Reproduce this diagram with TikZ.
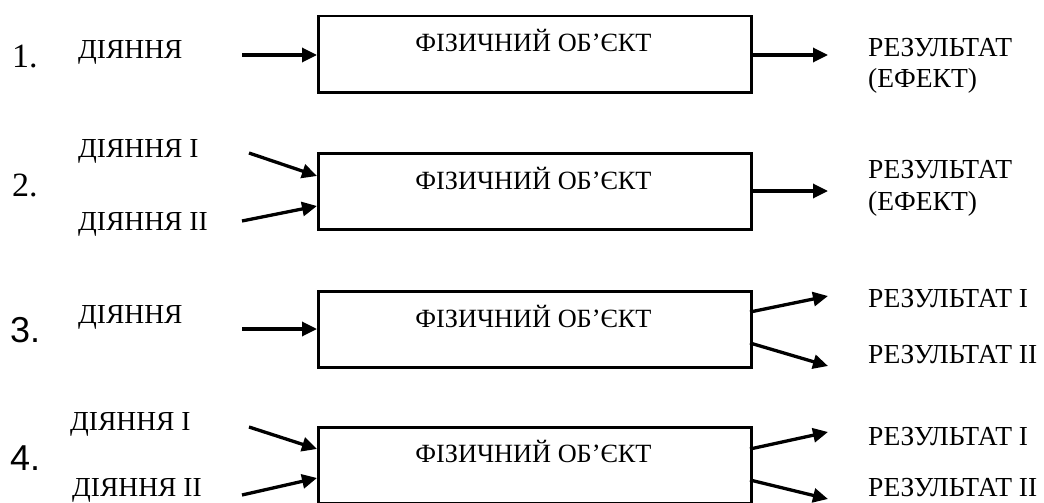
\documentclass[tikz,border=0pt]{standalone}
\usepackage{fontspec}
\setmainfont{Liberation Serif}
\newfontfamily\arialf{Liberation Sans}
\usetikzlibrary{arrows.meta}
\tikzset{
  x=1pt, y=-1pt,
  box/.style={draw, line width=2.5pt, minimum width=433pt, minimum height=76pt, inner sep=0pt, anchor=north west},
  lbl/.style={anchor=base west, inner sep=0pt, font=\fontsize{27.5}{32}\selectfont},
  boxtxt/.style={anchor=base, inner sep=0pt, font=\fontsize{26.3}{30}\selectfont},
  num/.style={anchor=base west, inner sep=0pt, font=\fontsize{34}{40}\selectfont},
  numsans/.style={anchor=base west, inner sep=0pt, font=\arialf\fontsize{36}{40}\selectfont},
  arr/.style={line width=3.3pt, -{Triangle[length=15pt,width=14pt]}},
}
\begin{document}
\begin{tikzpicture}
\useasboundingbox (0,0) rectangle (1044,503);
% ---------- row 1
\node[num] (n1) at (12,67) {1.};
\node[lbl] (a1) at (78,59) {ДІЯННЯ};
\node[box] (b1) at (317,15) {};
\node[boxtxt] (t1) at (533.5,52) {ФІЗИЧНИЙ ОБ’ЄКТ};
\node[lbl] (r1) at (868,57) {РЕЗУЛЬТАТ};
\node[lbl] (e1) at (868,88) {(ЕФЕКТ)};
\coordinate (s1) at (242,55);
\coordinate (i1) at (317,55);
\coordinate (o1) at (750,55);
\coordinate (f1) at (828,55);
\draw[arr] (s1) -- (i1);
\draw[arr] (o1) -- (f1);
% ---------- row 2
\node[num] (n2) at (12,196) {2.};
\node[lbl] (a2) at (78,157) {ДІЯННЯ I};
\node[lbl] (a2b) at (78,230) {ДІЯННЯ II};
\node[box] (b2) at (317,152) {};
\node[boxtxt] (t2) at (533.5,189) {ФІЗИЧНИЙ ОБ’ЄКТ};
\node[lbl] (r2) at (868,178) {РЕЗУЛЬТАТ};
\node[lbl] (e2) at (868,210) {(ЕФЕКТ)};
\coordinate (s2a) at (249,153);
\coordinate (i2a) at (317,176);
\coordinate (s2b) at (242,221);
\coordinate (i2b) at (317,206);
\coordinate (o2) at (750,191);
\coordinate (f2) at (828,191);
\draw[arr] (s2a) -- (i2a);
\draw[arr] (s2b) -- (i2b);
\draw[arr] (o2) -- (f2);
% ---------- row 3
\node[numsans] (n3) at (10,342) {3.};
\node[lbl] (a3) at (78,323) {ДІЯННЯ};
\node[box] (b3) at (317,290) {};
\node[boxtxt] (t3) at (533.5,327) {ФІЗИЧНИЙ ОБ’ЄКТ};
\node[lbl] (r3a) at (868,307) {РЕЗУЛЬТАТ I};
\node[lbl] (r3b) at (868,363) {РЕЗУЛЬТАТ II};
\coordinate (s3) at (242,329);
\coordinate (i3) at (317,329);
\coordinate (o3a) at (750,312);
\coordinate (f3a) at (828,296);
\coordinate (o3b) at (750,343);
\coordinate (f3b) at (828,366);
\draw[arr] (s3) -- (i3);
\draw[arr] (o3a) -- (f3a);
\draw[arr] (o3b) -- (f3b);
% ---------- row 4
\node[numsans] (n4) at (10,470) {4.};
\node[lbl] (a4) at (70,430) {ДІЯННЯ I};
\node[lbl] (a4b) at (72,496) {ДІЯННЯ II};
\node[box] (b4) at (317,426) {};
\node[boxtxt] (t4) at (533.5,462) {ФІЗИЧНИЙ ОБ’ЄКТ};
\node[lbl] (r4a) at (868,445) {РЕЗУЛЬТАТ I};
\node[lbl] (r4b) at (868,496) {РЕЗУЛЬТАТ II};
\coordinate (s4a) at (249,427);
\coordinate (i4a) at (317,449);
\coordinate (s4b) at (242,495);
\coordinate (i4b) at (317,478);
\coordinate (o4a) at (750,449);
\coordinate (f4a) at (828,432);
\coordinate (o4b) at (750,480);
\coordinate (f4b) at (828,499);
\draw[arr] (s4a) -- (i4a);
\draw[arr] (s4b) -- (i4b);
\draw[arr] (o4a) -- (f4a);
\draw[arr] (o4b) -- (f4b);
\end{tikzpicture}
\end{document}
